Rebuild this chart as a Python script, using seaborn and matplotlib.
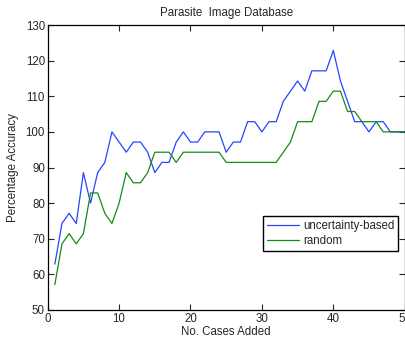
import matplotlib
matplotlib.use("Agg")
import matplotlib.pyplot as plt
import seaborn as sns
import numpy as np
import pandas as pd

# --- data ---
cases = list(range(1, 51))
uncertainty = [
    62.86, 74.29, 77.14, 74.29, 88.57, 80.00, 88.57, 91.43, 100.00, 97.14,
    94.29, 97.14, 97.14, 94.29, 88.57, 91.43, 91.43, 97.14, 100.00, 97.14,
    97.14, 100.00, 100.00, 100.00, 94.29, 97.14, 97.14, 102.86, 102.86, 100.00,
    102.86, 102.86, 108.57, 111.43, 114.29, 111.43, 117.14, 117.14, 117.14, 122.86,
    114.29, 108.57, 102.86, 102.86, 100.00, 102.86, 102.86, 100.00, 100.00, 100.00,
]
random_sel = [
    57.14, 68.57, 71.43, 68.57, 71.43, 82.86, 82.86, 77.14, 74.29, 80.00,
    88.57, 85.71, 85.71, 88.57, 94.29, 94.29, 94.29, 91.43, 94.29, 94.29,
    94.29, 94.29, 94.29, 94.29, 91.43, 91.43, 91.43, 91.43, 91.43, 91.43,
    91.43, 91.43, 94.29, 97.14, 102.86, 102.86, 102.86, 108.57, 108.57, 111.43,
    111.43, 105.71, 105.71, 102.86, 102.86, 102.86, 100.00, 100.00, 100.00, 100.00,
]
series_names = ["uncertainty-based", "random"]
x_ticks = [0, 10, 20, 30, 40, 50]
y_ticks = [50, 60, 70, 80, 90, 100, 110, 120, 130]

df = pd.DataFrame({
    "cases": cases * 2,
    "accuracy": uncertainty + random_sel,
    "method": [series_names[0]] * len(cases) + [series_names[1]] * len(cases),
})

sns.set_style("ticks")
plt.rcParams["font.family"] = ["Liberation Sans", "DejaVu Sans"]
plt.rcParams["xtick.direction"] = "in"
plt.rcParams["ytick.direction"] = "in"

FS = 8.3
W, H = 406, 338
fig = plt.figure(figsize=(W / 100, H / 100), dpi=100)
ax = fig.add_axes([47.7 / W, (H - 310) / H, 357 / W, 285 / H])

sns.lineplot(data=df, x="cases", y="accuracy", hue="method",
             palette={series_names[0]: "#2545ff", series_names[1]: "#138c13"},
             linewidth=0.9, sort=False, ax=ax)

ax.set_xlim(0, 50)
ax.set_ylim(50, 130)
ax.set_xticks(x_ticks)
ax.set_yticks(y_ticks)
ax.tick_params(labelsize=FS, length=4, width=0.8, top=True, right=True, pad=2)
for s in ax.spines.values():
    s.set_visible(True)
    s.set_linewidth(0.9)
    s.set_color("black")

ax.set_title("Parasite  Image Database", fontsize=FS, pad=6.5)
ax.set_xlabel("No. Cases Added", fontsize=FS, labelpad=1)
ax.set_ylabel("Percentage Accuracy", fontsize=FS, labelpad=5)

leg = ax.legend(loc="upper right", bbox_to_anchor=(0.982, 0.33), fontsize=FS,
                frameon=True, fancybox=False, edgecolor="black",
                handlelength=2.8, borderpad=0.35, labelspacing=0.3,
                handletextpad=0.35, borderaxespad=0)
leg.get_frame().set_linewidth(1.0)
leg.get_frame().set_alpha(1)

fig.savefig("out.png", dpi=100)
